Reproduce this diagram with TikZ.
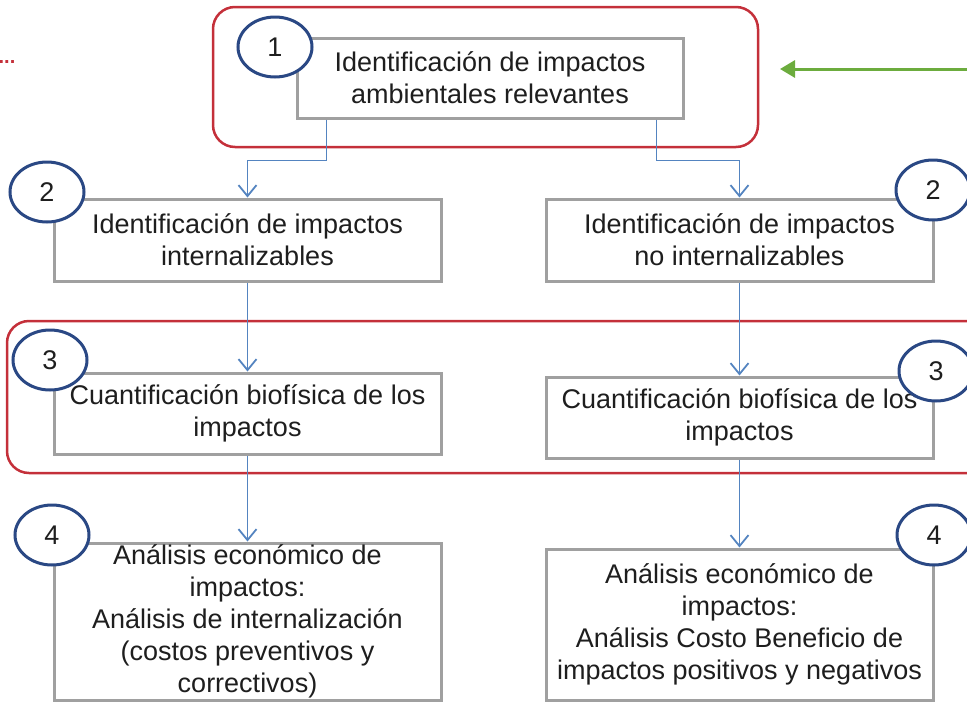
\documentclass[tikz,border=0pt]{standalone}
\usepackage{fontspec}
\setmainfont{Liberation Sans}
\usepackage{xcolor}
\usepackage{tikz}
\usetikzlibrary{shapes.geometric}
\usetikzlibrary{arrows.meta}

\definecolor{framered}{RGB}{196,48,58}
\definecolor{numblue}{RGB}{42,72,132}
\definecolor{boxgray}{RGB}{160,160,160}
\definecolor{linkblue}{RGB}{84,132,192}
\definecolor{arrowgreen}{RGB}{108,172,62}
\definecolor{textgray}{RGB}{30,30,30}

\begin{document}
\begin{tikzpicture}[
    x=1pt, y=-1pt,
    stepbox/.style={rectangle, draw=boxgray, line width=3pt, fill=white, text=textgray, align=center, inner sep=0pt, minimum width=387pt, font=\fontsize{27}{32}\selectfont},
    stepnum/.style={ellipse, draw=numblue, line width=3pt, fill=white, text=textgray, minimum width=74pt, minimum height=60pt, inner sep=0pt, font=\fontsize{27}{32}\selectfont},
    redframe/.style={rectangle, draw=framered, line width=2.5pt, rounded corners=22pt},
    link/.style={->, draw=linkblue, line width=1.8pt},
  ]
\tikzset{>={Straight Barb[length=11pt, width=18pt]}}

  \useasboundingbox (0,0) rectangle (967,702);

  % red frames
  \node[redframe, minimum width=545pt, minimum height=140pt] (frametop) at (485.5, 77) {};
  \node[redframe, minimum width=985pt, minimum height=152pt] (framemid) at (499.5, 397) {};

  \node[text=framered, font=\fontsize{20}{20}\bfseries] (dots) at (7, 62) {...};

  % steps
  \node[stepbox, minimum width=386pt, minimum height=80pt] (step1) at (490, 78)
    {Identificación de impactos\\ambientales relevantes};
  \node[stepbox, minimum height=82pt] (step2l) at (247.5, 240)
    {Identificación de impactos\\internalizables};
  \node[stepbox, minimum height=82pt] (step2r) at (739.5, 240)
    {Identificación de impactos\\no internalizables};
  \node[stepbox, minimum height=81pt] (step3l) at (247.5, 413.5)
    {Cuantificación biofísica de los\\impactos};
  \node[stepbox, minimum height=81pt] (step3r) at (739.5, 417.5)
    {Cuantificación biofísica de los\\impactos};
  \node[stepbox, minimum height=157pt] (step4l) at (247.5, 621.5)
    {Análisis económico de\\impactos:\\Análisis de internalización\\(costos preventivos y\\correctivos)};
  \node[stepbox, minimum height=151pt] (step4r) at (739.5, 624.5)
    {Análisis económico de\\impactos:\\Análisis Costo Beneficio de\\impactos positivos y negativos};

  % numbers
  \node[stepnum] (num1) at (275, 47) {1};
  \node[stepnum] (num2l) at (47, 192) {2};
  \node[stepnum] (num2r) at (933, 190) {2};
  \node[stepnum] (num3l) at (50, 360) {3};
  \node[stepnum] (num3r) at (936, 371) {3};
  \node[stepnum] (num4l) at (52, 535) {4};
  \node[stepnum] (num4r) at (934, 535) {4};

  % links
  \draw[link] ([xshift=31pt]step1.south west) -- ++(0,41) -| (step2l.north);
  \draw[link] ([xshift=-28pt]step1.south east) -- ++(0,41) -| (step2r.north);
  \draw[link] (step2l) -- (step3l);
  \draw[link] (step2r) -- (step3r);
  \draw[link] (step3l) -- (step4l);
  \draw[link] (step3r) -- (step4r);

  \coordinate (greentail) at (967, 69);
  \coordinate (greenhead) at (780, 69);
  \draw[-{Triangle[length=15pt, width=17pt]}, draw=arrowgreen, fill=arrowgreen, line width=3pt] (greentail) -- (greenhead);

\end{tikzpicture}
\end{document}
